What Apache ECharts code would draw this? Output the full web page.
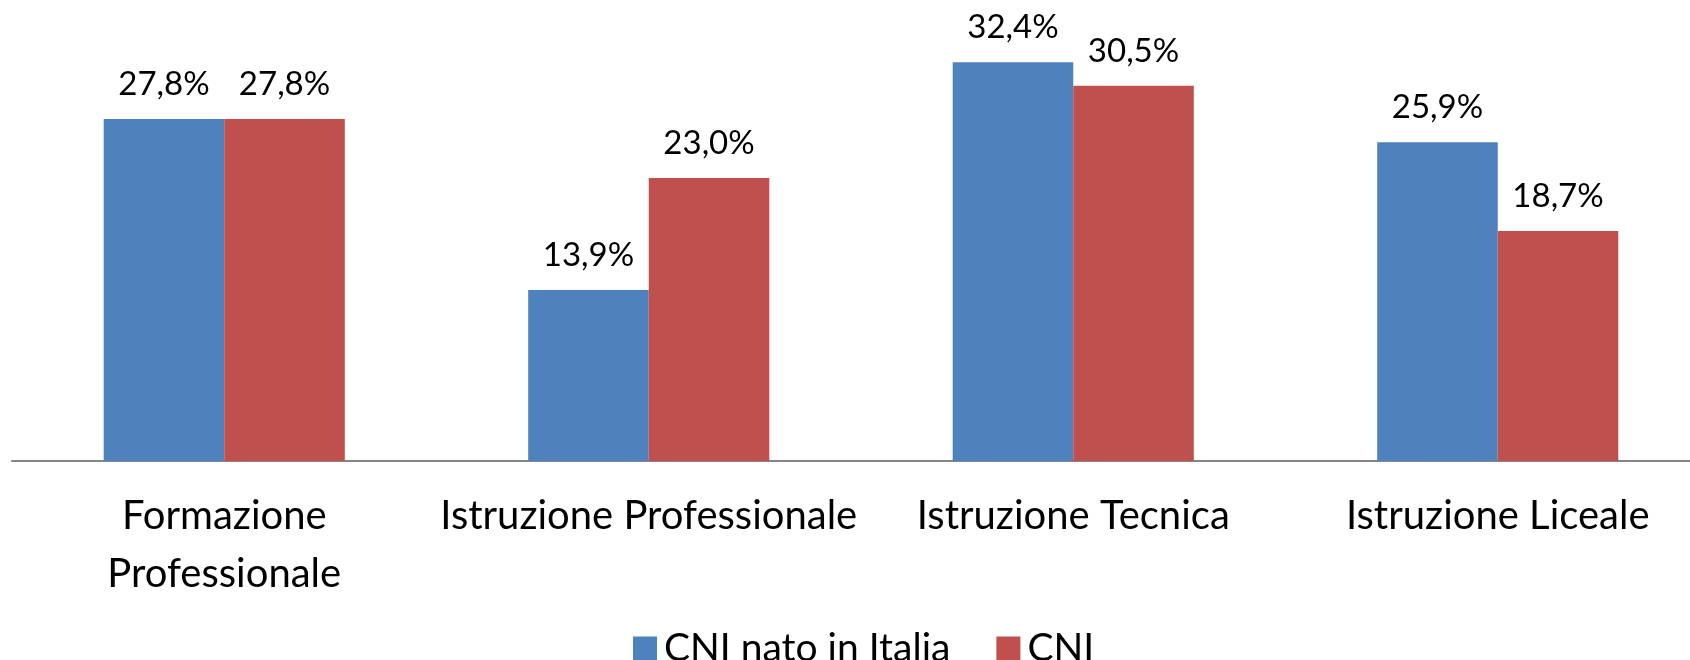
<!DOCTYPE html>
<html>
<head>
<meta charset="utf-8">
<script src="https://cdn.jsdelivr.net/npm/echarts@6/dist/echarts.min.js"></script>
<style>
html,body{margin:0;padding:0;background:#fff;}
#main{width:1690px;height:660px;}
</style>
</head>
<body>
<div id="main"></div>
<script>
var categorie = ['Formazione\nProfessionale', 'Istruzione Professionale', 'Istruzione Tecnica', 'Istruzione Liceale'];
var nomiSerie = ['CNI nato in Italia', 'CNI'];
var cniItalia = [27.8, 13.9, 32.4, 25.9];
var cni = [27.8, 23.0, 30.5, 18.7];
var colori = ['#4F81BD', '#C0504D'];

var font = 'Lato, "Open Sans", sans-serif';

function etichetta(p) {
	// virgola decimale
	return p.value.toFixed(1).replace('.', ',') + '%';
}

var labelStyle = {
	show: true,
	position: 'top',
	distance: 18,
	formatter: etichetta,
	color: '#000',
	fontFamily: font,
	fontSize: 33
};

var myChart = echarts.init(document.getElementById('main'));
var option = {
	color: colori,
	animation: false,
	grid: {
		left: 12,
		width: 1698,
		top: 18,
		bottom: 199,
		containLabel: false,
		outerBoundsMode: 'none'
	},
	legend: {
		data: nomiSerie,
		left: 628,
		top: 624,
		icon: 'rect',
		itemWidth: 24,
		itemHeight: 24,
		itemGap: 46,
		textStyle: {
			color: '#000',
			fontFamily: font,
			fontSize: 39,
			padding: [0, 0, 0, 2]
		}
	},
	xAxis: {
		type: 'category',
		data: categorie,
		axisLine: { lineStyle: { color: '#868686', width: 2 } },
		axisTick: { show: false },
		axisLabel: {
			color: '#000',
			fontFamily: font,
			fontSize: 40,
			lineHeight: 58,
			margin: 26,
			interval: 0
		}
	},
	yAxis: {
		type: 'value',
		min: 0,
		max: 36,
		show: false,
		splitLine: { show: false }
	},
	series: [{
		name: nomiSerie[0],
		type: 'bar',
		data: cniItalia,
		barWidth: '28.4%',
		barGap: '0%',
		label: labelStyle
	}, {
		name: nomiSerie[1],
		type: 'bar',
		data: cni,
		barWidth: '28.4%',
		barGap: '0%',
		label: labelStyle
	}]
};
myChart.setOption(option);
</script>
</body>
</html>
